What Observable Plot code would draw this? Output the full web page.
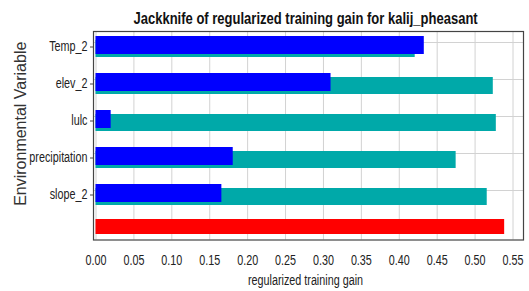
<!DOCTYPE html>
<html><head><meta charset="utf-8">
<script src="https://cdn.jsdelivr.net/npm/d3@7"></script>
<script src="https://cdn.jsdelivr.net/npm/@observablehq/plot@0.6"></script>
<style>html,body{margin:0;padding:0;background:#fff}</style>
</head><body><div id="chart"></div>
<script>
const variables = ["Temp_2", "elev_2", "lulc", "precipitation", "slope_2"];
const withoutGain = [0.421, 0.524, 0.528, 0.475, 0.516];
const onlyGain = [0.433, 0.310, 0.020, 0.181, 0.166];
const allKey = "all";
const allGain = [0.539];
const xTicks = [0, 0.05, 0.10, 0.15, 0.20, 0.25, 0.30, 0.35, 0.40, 0.45, 0.50, 0.55];
const titleText = ["Jackknife of regularized training gain for kalij_pheasant"];
const xLabelText = ["regularized training gain"];
const yLabelText = ["Environmental Variable"];

const rows = variables.map((v, i) => ({variable: v, without: withoutGain[i], only: onlyGain[i]}));
const allRows = allGain.map(g => ({variable: allKey, gain: g}));

const chart = Plot.plot({
  width: 529, height: 291,
  marginLeft: 93, marginRight: 6, marginTop: 31, marginBottom: 51.5,
  style: {fontFamily: "'Liberation Sans', Arial, sans-serif", fontSize: "14px", background: "#fff", color: "#222"},
  x: {domain: [0, 0.55], range: [95.5, 512.5]},
  y: {type: "band", domain: [...variables, allKey], range: [26, 252.5], padding: 0},
  marks: [
    Plot.ruleX(xTicks, {x: d => d, stroke: "#d2d2d2", strokeWidth: 1}),
    Plot.ruleY(variables, {y: d => d, dy: -4.5, stroke: "#d2d2d2", strokeWidth: 1}),
    Plot.barX(rows, {y: "variable", x1: 0, x2: "without", fill: "#00a9a9", insetTop: 12, insetBottom: 8}),
    Plot.barX(rows, {y: "variable", x1: 0, x2: "only", fill: "#0000ff", insetTop: 8, insetBottom: 11}),
    Plot.barX(allRows, {y: "variable", x1: 0, x2: "gain", fill: "#ff0000", insetTop: 6, insetBottom: 16}),
    Plot.frame({stroke: "#444", strokeWidth: 1.2}),
    Plot.axisX(xTicks, {tickFormat: d3.format(".2f"), tickSize: 0, tickPadding: 15.5, label: null, fontSize: 14}),
    Plot.axisY(variables, {tickSize: 3, tickPadding: 3, label: null, fontSize: 14, stroke: "#444"}),
    Plot.text(titleText, {frameAnchor: "top", dx: -3, dy: -13, lineAnchor: "middle", fontWeight: "bold", fontSize: 16, fill: "#111"}),
    Plot.text(xLabelText, {frameAnchor: "bottom", dx: -3, dy: 40.5, lineAnchor: "middle", fontSize: 14}),
    Plot.text(yLabelText, {frameAnchor: "left", textAnchor: "middle", rotate: -90, dx: -73, dy: -12, lineAnchor: "middle", fontSize: 16, fill: "#333"})
  ]
});
document.getElementById("chart").appendChild(chart);

// The reference image is horizontally condensed: compress horizontal text glyphs.
const titleWidth = 345;
chart.querySelectorAll("text").forEach(t => {
  const s = t.textContent;
  if (s === yLabelText[0]) return;
  const len = t.getComputedTextLength();
  if (!len) return;
  if (s === titleText[0]) {
    const b = t.getBBox();
    const cx = b.x + b.width / 2;
    const k = titleWidth / b.width;
    const tr = t.getAttribute("transform") || "";
    t.setAttribute("transform", `${tr} translate(${cx},0) scale(${k},1) translate(${-cx},0)`.trim());
    return;
  }
  t.setAttribute("textLength", len * 0.77);
  t.setAttribute("lengthAdjust", "spacingAndGlyphs");
});
</script>
</body></html>
